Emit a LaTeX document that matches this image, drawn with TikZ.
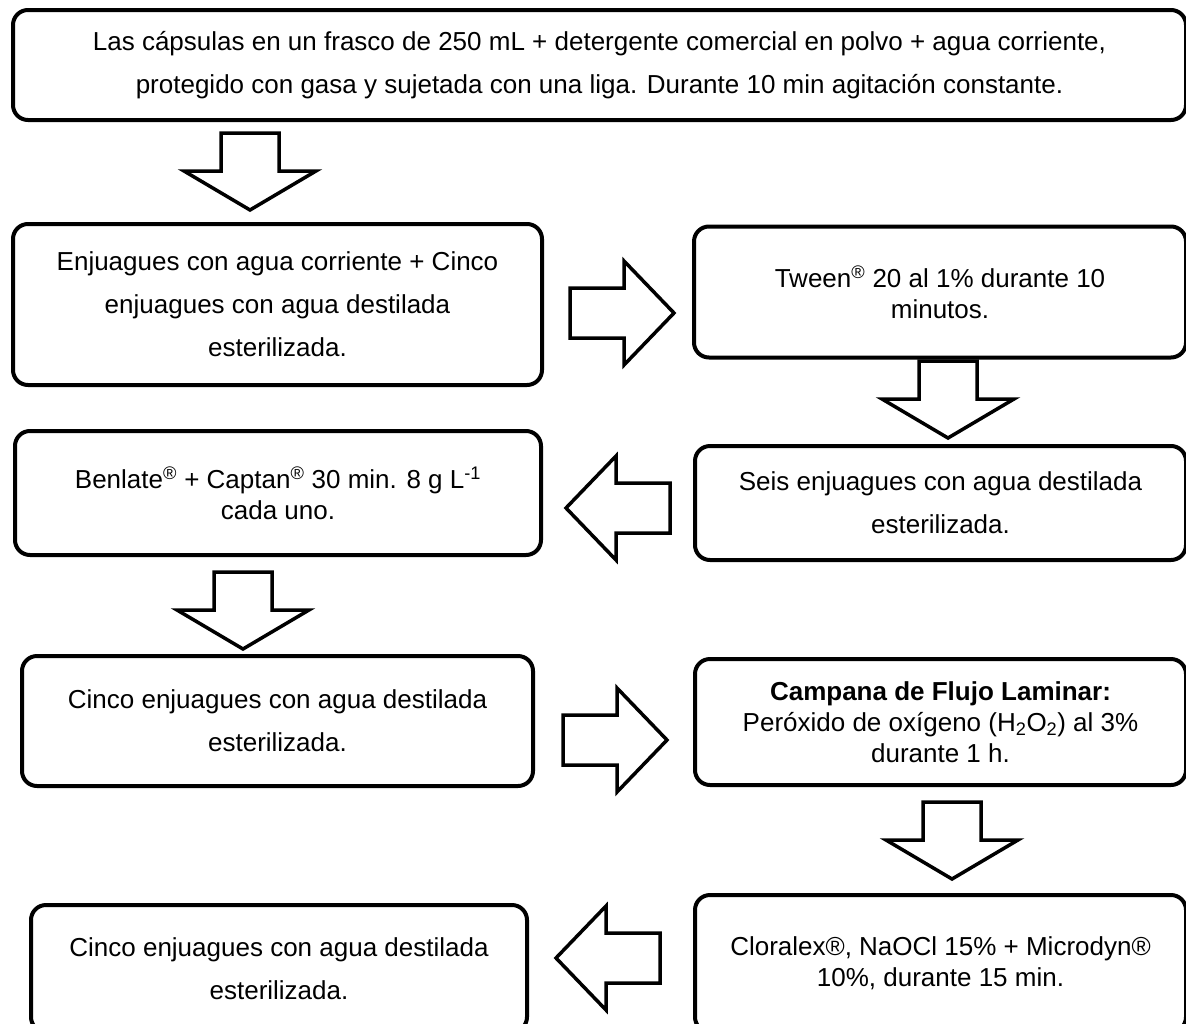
\documentclass[tikz,border=0pt]{standalone}
\usepackage{fontspec}
\setmainfont{Liberation Sans}
\newcommand{\reg}{\textsuperscript{\textregistered}}

\tikzset{
  box/.style={draw, line width=4, rounded corners=15, inner sep=0, align=center,
    font=\fontsize{26}{43}\selectfont},
  tight/.style={font=\fontsize{26}{31}\selectfont},
  arrowline/.style={draw, line width=3.5, fill=white},
  varrow/.pic={\path[arrowline] (-29,0) -- (29,0) -- (29,38) -- (66,38) -- (0,77) -- (-66,38) -- (-29,38) -- cycle;},
  harrow/.pic={\path[arrowline] (0,-25) -- (54,-25) -- (54,-52) -- (104,0) -- (54,52) -- (54,25) -- (0,25) -- cycle;}
}

\begin{document}
\begin{tikzpicture}[x=1pt,y=-1pt]
\useasboundingbox (0,0) rectangle (1186,1023);

% boxes
\node[box, minimum width=1173, minimum height=110] (frasco) at (599.5,65)
  {Las cápsulas en un frasco de 250 mL + detergente comercial en polvo + agua corriente,\\
   protegido con gasa y sujetada con una liga. Durante 10 min agitación constante.};
\node[box, minimum width=529, minimum height=161] (enjuague) at (277.5,304.5)
  {Enjuagues con agua corriente + Cinco\\ enjuagues con agua destilada\\ esterilizada.};
\node[box, tight, minimum width=492, minimum height=131] (tween) at (940,292)
  {Tween\reg{} 20 al 1\% durante 10\\ minutos.};
\node[box, minimum width=491, minimum height=114] (seis) at (940.5,503)
  {Seis enjuagues con agua destilada\\ esterilizada.};
\node[box, tight, minimum width=526, minimum height=124] (benlate) at (278,493)
  {Benlate\reg{} + Captan\reg{} 30 min. 8 g L\textsuperscript{-1}\\ cada uno.};
\node[box, minimum width=511, minimum height=130] (cinco) at (277.5,721)
  {Cinco enjuagues con agua destilada\\ esterilizada.};
\node[box, tight, minimum width=491, minimum height=126] (campana) at (940.5,722)
  {\textbf{Campana de Flujo Laminar:}\\ Peróxido de oxígeno (H\textsubscript{2}O\textsubscript{2}) al 3\%\\ durante 1 h.};
\node[box, tight, minimum width=491, minimum height=137] (cloralex) at (940.5,963.5)
  {Cloralex®, NaOCl 15\% + Microdyn®\\ 10\%, durante 15 min.};
\node[box, minimum width=496, minimum height=127] (cincob) at (279,968.5)
  {Cinco enjuagues con agua destilada\\ esterilizada.};

% block arrows
\pic (a1) at (250,133) {varrow};
\pic (a2) at (570,313) {harrow};
\pic (a3) at (948,361) {varrow};
\pic[rotate=180] (a4) at (670,508) {harrow};
\pic (a5) at (243,572) {varrow};
\pic (a6) at (563,740) {harrow};
\pic (a7) at (952,802) {varrow};
\pic[rotate=180] (a8) at (660,958) {harrow};
\end{tikzpicture}
\end{document}
